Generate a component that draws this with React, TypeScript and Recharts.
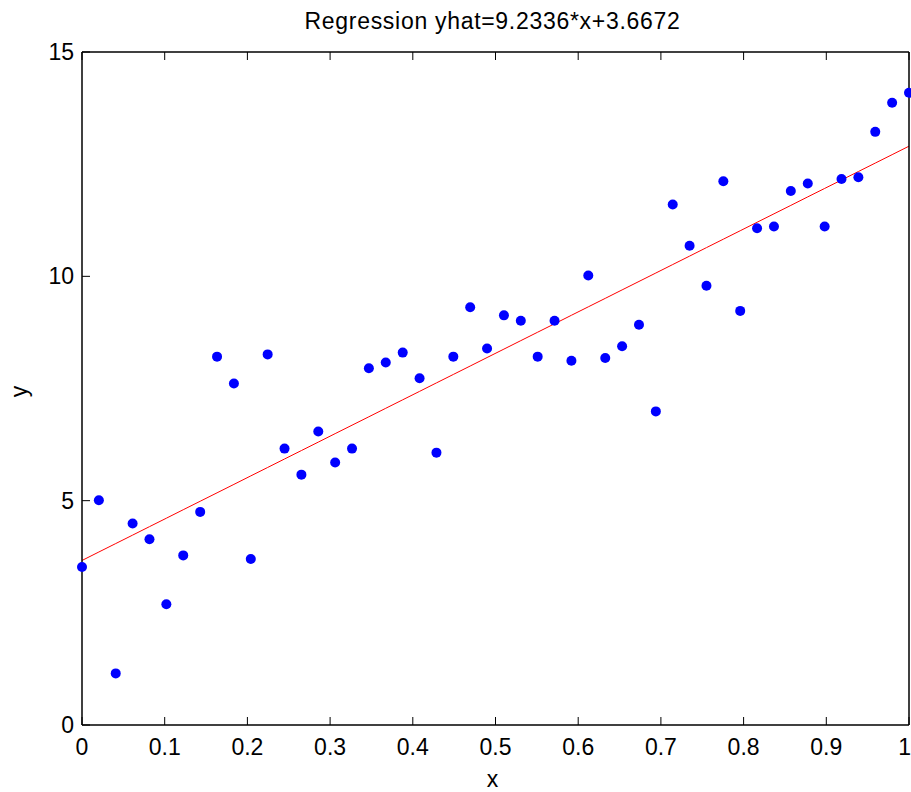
import { ComposedChart, XAxis, YAxis, Scatter, Line } from 'recharts';

// sample positions along x (50 evenly spaced samples, 0..1)
const xValues = [
  0, 0.0204, 0.0408, 0.0612, 0.0816, 0.102, 0.1224, 0.1429, 0.1633, 0.1837,
  0.2041, 0.2245, 0.2449, 0.2653, 0.2857, 0.3061, 0.3265, 0.3469, 0.3673, 0.3878,
  0.4082, 0.4286, 0.449, 0.4694, 0.4898, 0.5102, 0.5306, 0.551, 0.5714, 0.5918,
  0.6122, 0.6327, 0.6531, 0.6735, 0.6939, 0.7143, 0.7347, 0.7551, 0.7755, 0.7959,
  0.8163, 0.8367, 0.8571, 0.8776, 0.898, 0.9184, 0.9388, 0.9592, 0.9796, 1,
];

// observed y (blue dots)
const yObserved = [
  3.52, 5.01, 1.15, 4.49, 4.14, 2.69, 3.78, 4.75, 8.21, 7.61,
  3.7, 8.26, 6.16, 5.58, 6.54, 5.85, 6.16, 7.95, 8.08, 8.3,
  7.73, 6.07, 8.21, 9.31, 8.39, 9.13, 9.01, 8.21, 9.01, 8.12,
  10.02, 8.18, 8.44, 8.92, 6.99, 11.6, 10.68, 9.79, 12.12, 9.23,
  11.07, 11.11, 11.9, 12.07, 11.11, 12.17, 12.21, 13.22, 13.87, 14.09,
];

// fitted line (red)
const yFitted = [
  3.667, 3.856, 4.044, 4.232, 4.421, 4.609, 4.798, 4.987, 5.175, 5.363,
  5.552, 5.74, 5.929, 6.117, 6.305, 6.494, 6.682, 6.87, 7.059, 7.248,
  7.436, 7.625, 7.813, 8.001, 8.19, 8.378, 8.567, 8.755, 8.943, 9.132,
  9.32, 9.509, 9.698, 9.886, 10.074, 10.263, 10.451, 10.64, 10.828, 11.016,
  11.205, 11.393, 11.581, 11.771, 11.959, 12.147, 12.336, 12.524, 12.712, 12.901,
];

const xTicks = [0, 0.1, 0.2, 0.3, 0.4, 0.5, 0.6, 0.7, 0.8, 0.9, 1];
const yTicks = [0, 5, 10, 15];
const titleText = 'Regression yhat=9.2336*x+3.6672';

const font = '"Liberation Sans", Arial, Helvetica, sans-serif';
const fs = 23;
const tickLen = 8;

const data = xValues.map((x, i) => ({ x, y: yObserved[i], yhat: yFitted[i] }));

const BottomTick = ({ x, y, payload }: any) => {
  // last label sits on the figure edge, keep it inside
  const atEdge = x > 900;
  return (
    <g>
      <line x1={x} x2={x} y1={y} y2={y - tickLen} stroke="#000" />
      <text x={atEdge ? x + 2 : x} y={y + 30} textAnchor={atEdge ? 'end' : 'middle'} fontSize={fs} fontFamily={font} fill="#000">
        {payload.value}
      </text>
    </g>
  );
};

const TopTick = ({ x, y }: any) => <line x1={x} x2={x} y1={y} y2={y + tickLen} stroke="#000" />;

const LeftTick = ({ x, y, payload }: any) => (
  <g>
    <line x1={x} x2={x + tickLen} y1={y} y2={y} stroke="#000" />
    <text x={x - 8} y={y + 8} textAnchor="end" fontSize={fs} fontFamily={font} fill="#000">
      {payload.value}
    </text>
  </g>
);

const RightTick = ({ x, y }: any) => <line x1={x} x2={x - tickLen} y1={y} y2={y} stroke="#000" />;

const dot = (p: any) => <circle cx={p.cx} cy={p.cy} r={5} fill="#0000ff" />;

export default function App() {
  return (
    <div style={{ position: 'absolute', left: 0, top: 0, width: 911, height: 792, background: '#fff' }}>
      <ComposedChart width={911} height={792} data={data} margin={{ top: 51, right: 1, bottom: 66, left: 81 }}>
        <XAxis
          dataKey="x"
          type="number"
          domain={[0, 1]}
          ticks={xTicks}
          interval={0}
          height={1}
          tickSize={0}
          tickMargin={0}
          tick={<BottomTick />}
          axisLine={{ stroke: '#000', strokeWidth: 1.5 }}
          label={({ viewBox }: any) => (
            <text x={viewBox.x + viewBox.width / 2 - 3} y={viewBox.y + 62} textAnchor="middle" fontSize={fs} fontFamily={font} fill="#000">
              x
            </text>
          )}
        />
        <XAxis
          xAxisId="top"
          orientation="top"
          dataKey="x"
          type="number"
          domain={[0, 1]}
          ticks={xTicks}
          interval={0}
          height={1}
          tickSize={0}
          tickMargin={0}
          tick={<TopTick />}
          axisLine={{ stroke: '#000', strokeWidth: 1.5 }}
          label={({ viewBox }: any) => (
            <text x={viewBox.x + viewBox.width / 2 - 3} y={viewBox.y - 22} textAnchor="middle" fontSize={fs} letterSpacing={0.7} fontFamily={font} fill="#000">
              {titleText}
            </text>
          )}
        />
        <YAxis
          type="number"
          domain={[0, 15]}
          ticks={yTicks}
          interval={0}
          width={1}
          tickSize={0}
          tickMargin={0}
          tick={<LeftTick />}
          axisLine={{ stroke: '#000', strokeWidth: 1.5 }}
          label={({ viewBox }: any) => {
            const cx = viewBox.x - 54;
            const cy = viewBox.y + viewBox.height / 2 + 3;
            return (
              <text x={cx} y={cy} transform={`rotate(-90, ${cx}, ${cy})`} textAnchor="middle" fontSize={fs} fontFamily={font} fill="#000">
                y
              </text>
            );
          }}
        />
        <YAxis
          yAxisId="right"
          orientation="right"
          type="number"
          domain={[0, 15]}
          ticks={yTicks}
          interval={0}
          width={1}
          tickSize={0}
          tickMargin={0}
          tick={<RightTick />}
          axisLine={{ stroke: '#000', strokeWidth: 1.5 }}
        />
        <Line dataKey="yhat" type="linear" stroke="#ff0000" strokeWidth={1} dot={false} activeDot={false} isAnimationActive={false} />
        <Scatter dataKey="y" fill="#0000ff" shape={dot} isAnimationActive={false} />
      </ComposedChart>
    </div>
  );
}
